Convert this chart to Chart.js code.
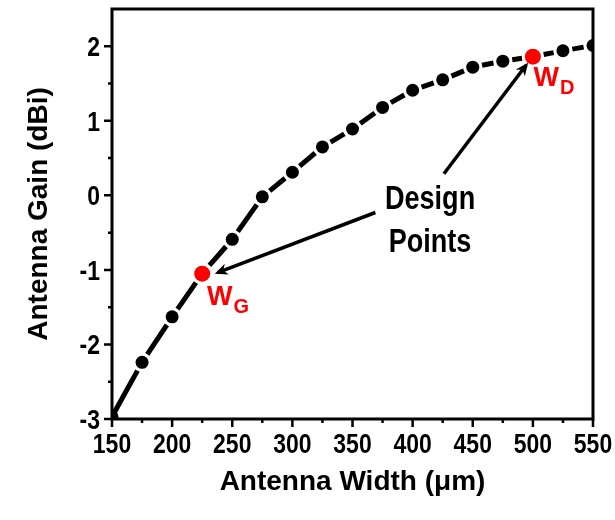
<!DOCTYPE html>
<html>
<head>
<meta charset="utf-8">
<title>Antenna Gain vs Width</title>
<script src="https://cdn.jsdelivr.net/npm/chart.js@4.4.1/dist/chart.umd.min.js"></script>
<style>
  html, body { margin: 0; padding: 0; background: #fff; }
  #wrap { width: 615px; height: 520px; }
</style>
</head>
<body>
<div id="wrap"><canvas id="gainChart"></canvas></div>
<script>
// antenna width sweep (um) and simulated gain (dBi)
const widths = [150, 175, 200, 225, 250, 275, 300, 325, 350, 375, 400, 425, 450, 475, 500, 525, 550];
const gains = [-2.97, -2.24, -1.63, -1.05, -0.59, -0.02, 0.31, 0.65, 0.89, 1.18, 1.41, 1.55, 1.72, 1.80, 1.86, 1.94, 2.01];

// chosen widths, drawn in red
const designWidths = [225, 500];
const designNames = ['G', 'D'];

const font = "'Liberation Sans', Arial, sans-serif";
const squeeze = 0.82;   // narrow look for tick numbers and the note

// annotation placement in data units
const notes = {
  arrows: [
    { from: [369, -0.23], to: [235.5, -1.05] },
    { from: [426, 0.29], to: [496, 1.78] }
  ],
  text: [
    { str: 'Design', at: [414.5, -0.18] },
    { str: 'Points', at: [414.5, -0.76] }
  ],
  subs: [
    { at: [229, -1.47] },   // W_G
    { at: [500.5, 1.47] }   // W_D
  ]
};

const isDesign = (i) => designWidths.indexOf(widths[i]) >= 0;
const radiusOf = (i) => isDesign(i) ? 8 : 6.5;
// blank space left around each symbol by the connecting line
const gapOf = (i) => i === 0 ? 0 : radiusOf(i) + 3;

const data1 = {
  datasets: [{
    label: 'Gain',
    data: widths.map((w, i) => ({ x: w, y: gains[i] })),
    borderColor: '#000',
    borderWidth: 5,
    borderCapStyle: 'butt',
    pointRadius: (c) => radiusOf(c.dataIndex),
    pointBackgroundColor: (c) => isDesign(c.dataIndex) ? '#ff0000' : '#000',
    pointBorderWidth: 0,
    pointHoverRadius: 8,
    tension: 0,
    clip: 0,
    // one dash per segment, with a gap next to each symbol
    segment: {
      borderDash: (c) => {
        const len = Math.hypot(c.p1.x - c.p0.x, c.p1.y - c.p0.y);
        const g0 = gapOf(c.p0DataIndex), g1 = gapOf(c.p1DataIndex);
        return [0, g0, Math.max(len - g0 - g1, 0), g1 + 40];
      },
      borderDashOffset: (c) => (c.p0DataIndex % 2) * 0.001
    }
  }]
};

// text squeezed horizontally
function narrowText(ctx, str, x, y) {
  ctx.save();
  ctx.translate(x, y);
  ctx.scale(squeeze, 1);
  ctx.fillText(str, 0, 0);
  ctx.restore();
}

// frame, tick marks, tick labels and the design-point notes
const extras = {
  id: 'extras',
  afterDatasetsDraw(chart) {
    const ctx = chart.ctx;
    const xs = chart.scales.x, ys = chart.scales.y;
    const px = (p) => [xs.getPixelForValue(p[0]), ys.getPixelForValue(p[1])];
    ctx.save();

    // arrows
    ctx.strokeStyle = '#000';
    ctx.fillStyle = '#000';
    ctx.lineWidth = 3.5;
    notes.arrows.forEach(a => {
      const [x1, y1] = px(a.from), [x2, y2] = px(a.to);
      const ang = Math.atan2(y2 - y1, x2 - x1);
      ctx.beginPath();
      ctx.moveTo(x1, y1);
      ctx.lineTo(x2 - 3 * Math.cos(ang), y2 - 3 * Math.sin(ang));
      ctx.stroke();
      const hl = 14, hw = 0.42;
      ctx.beginPath();
      ctx.moveTo(x2, y2);
      ctx.lineTo(x2 - hl * Math.cos(ang - hw), y2 - hl * Math.sin(ang - hw));
      ctx.lineTo(x2 - hl * 0.65 * Math.cos(ang), y2 - hl * 0.65 * Math.sin(ang));
      ctx.lineTo(x2 - hl * Math.cos(ang + hw), y2 - hl * Math.sin(ang + hw));
      ctx.closePath();
      ctx.fill();
    });

    // "Design Points"
    ctx.font = 'bold 33px ' + font;
    ctx.textAlign = 'center';
    ctx.textBaseline = 'alphabetic';
    notes.text.forEach(t => {
      const [x, y] = px(t.at);
      narrowText(ctx, t.str, x, y);
    });

    // W with subscript
    ctx.fillStyle = '#ff0000';
    ctx.textAlign = 'left';
    notes.subs.forEach((s, i) => {
      const [x, y] = px(s.at);
      ctx.font = 'bold 27px ' + font;
      ctx.fillText('W', x, y);
      const w = ctx.measureText('W').width;
      ctx.font = 'bold 20px ' + font;
      ctx.fillText(designNames[i], x + w + 1, y + 8);
    });
    ctx.restore();
  },
  afterDraw(chart) {
    const ctx = chart.ctx;
    const a = chart.chartArea;
    const xs = chart.scales.x, ys = chart.scales.y;
    ctx.save();
    ctx.strokeStyle = '#000';
    ctx.fillStyle = '#000';
    ctx.lineWidth = 2.5;
    ctx.font = 'bold 28px ' + font;
    ctx.textBaseline = 'alphabetic';
    ctx.beginPath();
    ctx.textAlign = 'center';
    xs.ticks.forEach(t => {
      const x = xs.getPixelForValue(t.value);
      const major = t.value % 50 === 0;
      ctx.moveTo(x, a.bottom);
      ctx.lineTo(x, a.bottom + (major ? 8 : 4));
      if (major) narrowText(ctx, String(t.value), x, a.bottom + 34);
    });
    ctx.textAlign = 'right';
    ys.ticks.forEach(t => {
      if (t.value >= ys.max) return;
      const y = ys.getPixelForValue(t.value);
      const major = Number.isInteger(t.value);
      ctx.moveTo(a.left, y);
      ctx.lineTo(a.left - (major ? 8 : 4), y);
      if (major) narrowText(ctx, String(t.value), a.left - 12, y + 10);
    });
    ctx.stroke();
    ctx.lineWidth = 3;
    ctx.strokeRect(a.left, a.top, a.right - a.left, a.bottom - a.top);
    ctx.restore();
  }
};

const config1 = {
  type: 'line',
  data: data1,
  options: {
    responsive: false,
    animation: false,
    layout: { padding: { left: 0, right: 22, top: 9, bottom: 0 } },
    plugins: {
      legend: { display: false },
      tooltip: { enabled: false }
    },
    scales: {
      x: {
        type: 'linear',
        min: 150,
        max: 550,
        afterFit: (s) => {
          s.height = 101;
          s.paddingLeft = 0;
          s.paddingRight = 0;
        },
        grid: { display: false, drawTicks: false },
        border: { display: false },
        ticks: { stepSize: 25, display: false },
        title: {
          display: true,
          text: 'Antenna Width (\u03bcm)',
          color: '#000',
          font: { family: font, size: 28, weight: 'bold' },
          padding: { top: 0, bottom: 21 }
        }
      },
      y: {
        min: -3,
        max: 2.5,
        afterFit: (s) => {
          s.width = 112;
          s.paddingTop = 0;
          s.paddingBottom = 0;
        },
        grid: { display: false, drawTicks: false },
        border: { display: false },
        ticks: { stepSize: 0.5, display: false },
        title: {
          display: true,
          text: 'Antenna Gain (dBi)',
          color: '#000',
          font: { family: font, size: 28, weight: 'bold' },
          padding: { top: 22, bottom: 0 }
        }
      }
    }
  },
  plugins: [extras]
};

const canvas = document.getElementById('gainChart');
canvas.width = 615;
canvas.height = 520;

const myChart1 = new Chart(canvas, config1);
</script>
</body>
</html>
